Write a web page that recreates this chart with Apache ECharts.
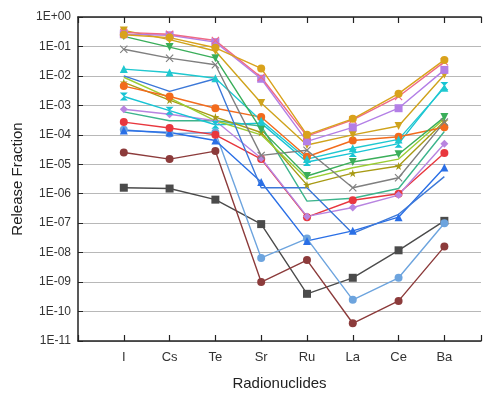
<!DOCTYPE html>
<html>
<head>
<meta charset="utf-8">
<script src="https://cdn.jsdelivr.net/npm/echarts@6/dist/echarts.min.js"></script>
<style>
  html, body { margin: 0; padding: 0; background: #fff; }
  #chart { width: 488px; height: 396px; }
</style>
</head>
<body>
<div id="chart"></div>
<script>
const categories = ["I", "Cs", "Te", "Sr", "Ru", "La", "Ce", "Ba"];

// release fractions per radionuclide
const goldCircle      = [2.5e-1, 2.0e-1, 9.0e-2, 1.8e-2, 1.0e-4, 3.5e-4, 2.5e-3, 3.5e-2];
const pinkCross       = [3.0e-1, 2.6e-1, 1.6e-1, 9.0e-3, 9.0e-5, 3.2e-4, 2.0e-3, 3.0e-2];
const purpleSquare    = [2.6e-1, 2.4e-1, 1.4e-1, 8.0e-3, 6.0e-5, 1.8e-4, 8.0e-4, 1.6e-2];
const goldTriangle    = [3.5e-1, 1.7e-1, 7.0e-2, 1.2e-3, 4.5e-5, 1.0e-4, 2.0e-4, 1.1e-2];
const greenTriangle   = [2.2e-1, 9.5e-2, 4.0e-2, 1.5e-4, 4.0e-6, 1.2e-5, 2.2e-5, 4.0e-4];
const grayCross       = [8.0e-2, 4.0e-2, 2.4e-2, 2.0e-5, 3.0e-5, 1.6e-6, 3.5e-6, 2.7e-4];
const cyanTriangle    = [1.7e-2, 1.3e-2, 8.3e-3, 3.0e-4, 1.5e-5, 3.5e-5, 7.0e-5, 4.0e-3];
const blueLine        = [1.0e-2, 3.0e-3, 8.0e-3, 1.6e-6, 1.6e-6, 4.5e-8, 2.0e-7, 3.8e-6];
const orangeCircle    = [4.5e-3, 2.0e-3, 8.0e-4, 4.0e-4, 1.8e-5, 6.4e-5, 8.6e-5, 1.8e-4];
const yellowGreen     = [9.0e-3, 1.8e-3, 3.0e-4, 1.0e-4, 3.2e-6, 7.6e-6, 1.5e-5, 3.5e-4];
const oliveStar       = [6.0e-3, 1.5e-3, 4.0e-4, 1.2e-4, 2.0e-6, 5.0e-6, 8.7e-6, 2.9e-4];
const cyanHourglass   = [2.0e-3, 6.6e-4, 2.2e-4, 2.5e-4, 1.2e-5, 2.4e-5, 5.0e-5, 4.5e-3];
const purpleDiamond   = [7.4e-4, 5.0e-4, 3.0e-4, 1.6e-5, 1.7e-7, 3.4e-7, 9.0e-7, 5.0e-5];
const tealLine        = [6.0e-4, 3.0e-4, 3.0e-4, 2.0e-4, 5.6e-7, 7.0e-7, 1.5e-6, 1.3e-4];
const redCircle       = [2.7e-4, 1.7e-4, 1.0e-4, 1.5e-5, 1.6e-7, 6.0e-7, 1.0e-6, 2.4e-5];
const lightBlueCircle = [1.5e-4, 1.1e-4, 1.2e-4, 6.6e-9, 3.0e-8, 2.5e-10, 1.4e-9, 1.0e-7];
const blueTriangle    = [1.4e-4, 1.2e-4, 6.4e-5, 2.5e-6, 2.5e-8, 5.5e-8, 1.6e-7, 7.8e-6];
const brownCircle     = [2.5e-5, 1.5e-5, 2.8e-5, 1.0e-9, 5.6e-9, 4.0e-11, 2.3e-10, 1.6e-8];
const graySquare      = [1.6e-6, 1.5e-6, 6.3e-7, 9.3e-8, 4.0e-10, 1.4e-9, 1.2e-8, 1.2e-7];

const CROSS = "path://M0,1 L1,0 L5,4 L9,0 L10,1 L6,5 L10,9 L9,10 L5,6 L1,10 L0,9 L4,5 Z";
const STAR = "path://M5,0 L6.2,3.8 L10,3.8 L6.9,6.1 L8.1,10 L5,7.6 L1.9,10 L3.1,6.1 L0,3.8 L3.8,3.8 Z";
const HOURGLASS = "path://M0,0 L10,0 L5,5 L10,10 L0,10 L5,5 Z";

// bottom of the stack is drawn first
const lines = [
  { data: graySquare,      color: "#4b4b4b", symbol: "rect" },
  { data: brownCircle,     color: "#8c3b3b", symbol: "circle" },
  { data: lightBlueCircle, color: "#6da4de", symbol: "circle" },
  { data: blueTriangle,    color: "#2a6fe6", symbol: "triangle" },
  { data: redCircle,       color: "#e8373e", symbol: "circle" },
  { data: tealLine,        color: "#3cb48c", symbol: "none" },
  { data: purpleDiamond,   color: "#b884e0", symbol: "diamond" },
  { data: cyanHourglass,   color: "#17c4d4", symbol: HOURGLASS },
  { data: oliveStar,       color: "#a89a14", symbol: STAR },
  { data: yellowGreen,     color: "#9acd32", symbol: "none" },
  { data: orangeCircle,    color: "#f26b1d", symbol: "circle" },
  { data: blueLine,        color: "#3c78d8", symbol: "none" },
  { data: cyanTriangle,    color: "#1fc8d0", symbol: "triangle" },
  { data: grayCross,       color: "#7f7f7f", symbol: CROSS },
  { data: greenTriangle,   color: "#3aae5a", symbol: "triangle", rotate: 180 },
  { data: goldTriangle,    color: "#cfa31c", symbol: "triangle", rotate: 180 },
  { data: purpleSquare,    color: "#b37fe6", symbol: "rect" },
  { data: pinkCross,       color: "#ee6a86", symbol: CROSS },
  { data: goldCircle,      color: "#d9a21b", symbol: "circle" },
];

function sciLabel(v) {
  const e = Math.round(Math.log10(v));
  const a = Math.abs(e);
  return "1E" + (e < 0 ? "-" : "+") + (a < 10 ? "0" + a : a);
}

const chart = echarts.init(document.getElementById("chart"), null, { renderer: "canvas" });
const ticks = categories.map((c, i) => i + 1);

const tickStyle = { show: true, inside: true, length: 6, lineStyle: { color: "#222", width: 1.2 } };

chart.setOption({
  animation: false,
  backgroundColor: "#fff",
  textStyle: { fontFamily: "Liberation Sans, Arial, sans-serif" },
  grid: { left: 78, right: 7, top: 17, bottom: 47 },
  xAxis: [
    {
      type: "value",
      min: 0,
      max: 8.8,
      interval: 1,
      name: "Radionuclides",
      nameLocation: "middle",
      nameGap: 35,
      nameTextStyle: { fontSize: 15, color: "#222" },
      axisLine: { lineStyle: { color: "#222", width: 1.5 } },
      axisTick: tickStyle,
      axisLabel: {
        customValues: ticks,
        margin: 10,
        fontSize: 13,
        color: "#333",
        formatter: (v) => categories[Math.round(v) - 1] || "",
      },
      splitLine: { show: false },
    },
    {
      type: "value",
      position: "top",
      min: 0,
      max: 8.8,
      interval: 1,
      axisLine: { show: true, lineStyle: { color: "#222", width: 1.5 } },
      axisTick: tickStyle,
      axisLabel: { show: false },
      splitLine: { show: false },
    },
  ],
  yAxis: {
    type: "log",
    logBase: 10,
    min: 1e-11,
    max: 1,
    interval: 1,
    name: "Release Fraction",
    nameLocation: "middle",
    nameGap: 53,
    nameTextStyle: { fontSize: 15, color: "#222" },
    axisLine: { show: true, lineStyle: { color: "#222", width: 1.5 } },
    axisTick: { show: true, inside: true, length: 5, lineStyle: { color: "#222" } },
    axisLabel: { fontSize: 12, color: "#333", margin: 7, formatter: sciLabel },
    splitLine: { lineStyle: { color: "#b8b8b8", width: 1 } },
  },
  series: lines.map((s) => ({
    type: "line",
    xAxisIndex: 0,
    data: s.data.map((v, i) => [i + 1, v]),
    symbol: s.symbol,
    symbolRotate: s.rotate || 0,
    symbolSize: 8,
    lineStyle: { color: s.color, width: 1.4 },
    itemStyle: { color: s.color },
    silent: true,
  })),
});
</script>
</body>
</html>
